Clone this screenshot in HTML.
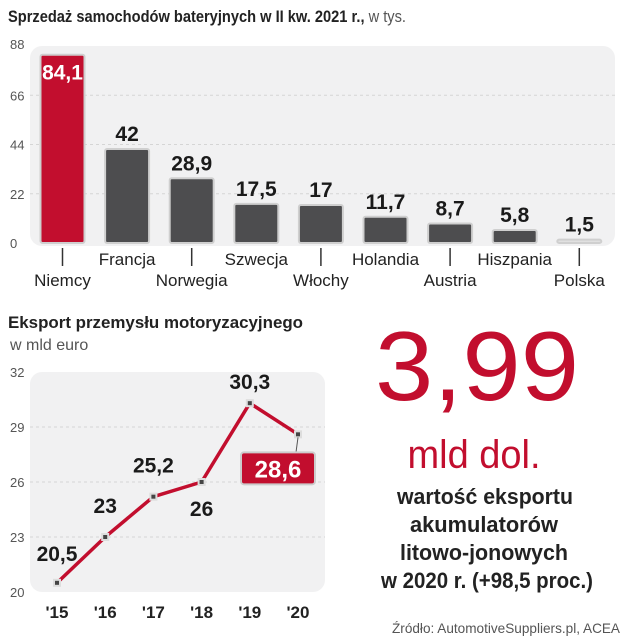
<!DOCTYPE html>
<html><head><meta charset="utf-8"><style>
html,body{margin:0;padding:0;background:#fff}
svg{display:block;font-family:"Liberation Sans",sans-serif}
</style></head><body>
<svg id="c" width="636" height="640" viewBox="0 0 636 640" xmlns="http://www.w3.org/2000/svg">
<text x="8" y="22" font-size="17" font-weight="bold" fill="#222" textLength="398" lengthAdjust="spacingAndGlyphs">Sprzedaż samochodów bateryjnych w II kw. 2021 r.,<tspan font-weight="normal" fill="#555"> w tys.</tspan></text>
<rect x="30" y="46" width="585" height="200" rx="12" fill="#f1f1f2"/>
<g id="barGrid"></g><g id="bars"></g>
<text x="8" y="328" font-size="17" font-weight="bold" fill="#222" textLength="295" lengthAdjust="spacingAndGlyphs">Eksport przemysłu motoryzacyjnego</text>
<text x="10" y="350" font-size="16" fill="#555">w mld euro</text>
<rect x="30" y="372" width="295" height="220" rx="12" fill="#f1f1f2"/>
<g id="lineGrid"></g><g id="line"></g>
<text x="477" y="400" font-size="98" fill="#c20e2e" text-anchor="middle" textLength="204" lengthAdjust="spacingAndGlyphs">3,99</text>
<text x="474" y="468" font-size="40" fill="#c20e2e" text-anchor="middle" textLength="133" lengthAdjust="spacingAndGlyphs">mld dol.</text>
<g font-size="22" font-weight="bold" fill="#222" text-anchor="middle">
<text x="485" y="504" textLength="176" lengthAdjust="spacingAndGlyphs">wartość eksportu</text>
<text x="484" y="532" textLength="148" lengthAdjust="spacingAndGlyphs">akumulatorów</text>
<text x="484" y="560" textLength="168" lengthAdjust="spacingAndGlyphs">litowo-jonowych</text>
<text x="487" y="588" textLength="212" lengthAdjust="spacingAndGlyphs">w 2020 r. (+98,5 proc.)</text>
</g>
<text x="620" y="633" font-size="14" fill="#555" text-anchor="end" textLength="228" lengthAdjust="spacingAndGlyphs">Źródło: AutomotiveSuppliers.pl, ACEA</text>
</svg>
<script>
const barCategories=["Niemcy","Francja","Norwegia","Szwecja","Włochy","Holandia","Austria","Hiszpania","Polska"];
const barValues=[84.1,42,28.9,17.5,17,11.7,8.7,5.8,1.5];
const barLabels=["84,1","42","28,9","17,5","17","11,7","8,7","5,8","1,5"];
const barTicks=[0,22,44,66,88];
const lineYears=["'15","'16","'17","'18","'19","'20"];
const lineValues=[20.5,23,25.2,26,30.3,28.6];
const lineLabels=["20,5","23","25,2","26","30,3","28,6"];
const lineTicks=[20,23,26,29,32];
const NS="http://www.w3.org/2000/svg";
function mk(t,a,p,txt){const e=document.createElementNS(NS,t);for(const k in a)e.setAttribute(k,a[k]);if(txt!=null)e.textContent=txt;p.appendChild(e);return e;}
const by=v=>243-v*(197/88);
const bx=i=>62.5+i*64.6;
const bg=document.getElementById('barGrid'),bb=document.getElementById('bars');
barTicks.forEach(t=>{
 if(t>0&&t<88){const l=mk('line',{x1:30,x2:615,y1:by(t),y2:by(t),stroke:'#d5d5d5','stroke-dasharray':'3,3'},bg);}
 const tx=mk('text',{x:10,y:by(t)+(t==88?3:5),'font-size':13,fill:'#555'},bg,String(t));
 
});
barValues.forEach((v,i)=>{
 const x=bx(i),top=by(v),h=Math.max(243-top,2);
 const r=mk('rect',{x:x-22,y:243-h,width:44,height:h,rx:2,fill:i==0?'#c20e2e':(v<3?'#e0e0e0':'#4d4d4f'),stroke:'#cfcfcf','stroke-width':2},bb);
 
 const lab=mk('text',{x:x,y:i==0?top+25:top-8,'font-size':21,'font-weight':'bold',fill:i==0?'#fff':'#1a1a1a','text-anchor':'middle'},bb,barLabels[i]);
 
 const low=i%2==0;
 if(low){const tk=mk('line',{x1:x,x2:x,y1:248,y2:266,stroke:'#333','stroke-width':1.5},bb);}
 const cl=mk('text',{x:x,y:low?286:265,'font-size':17,fill:'#222','text-anchor':'middle'},bb,barCategories[i]);
 
});
const ly=v=>592-(v-20)*(220/12);
const lx=i=>57+i*48.2;
const lg=document.getElementById('lineGrid'),lg2=document.getElementById('line');
lineTicks.forEach(t=>{
 if(t>20&&t<32){const l=mk('line',{x1:30,x2:325,y1:ly(t),y2:ly(t),stroke:'#d5d5d5','stroke-dasharray':'3,3'},lg);}
 const tx=mk('text',{x:10,y:ly(t)+5,'font-size':13,fill:'#555'},lg,String(t));
 
});
lineYears.forEach((y,i)=>{const t=mk('text',{x:lx(i),y:618,'font-size':17,'font-weight':'bold',fill:'#222','text-anchor':'middle'},lg,y);});
const pl=mk('polyline',{points:lineValues.map((v,i)=>lx(i)+','+ly(v)).join(' '),fill:'none',stroke:'#c20e2e','stroke-width':3.5,'stroke-linejoin':'round'},lg2);

const offs=[[0,-22],[0,-24],[0,-24],[0,26],[0,-14],[0,0]];
lineValues.forEach((v,i)=>{
 const x=lx(i),y=ly(v);
 const p=mk('rect',{x:x-3,y:y-3,width:6,height:6,fill:'#444',stroke:'#ddd','stroke-width':2},lg2);
 
 if(i==lineValues.length-1){
  const ln=mk('line',{x1:x,x2:x-2,y1:y+3,y2:y+18,stroke:'#555'},lg2);
  const bx2=mk('rect',{x:x-57,y:y+18,width:74,height:32,rx:3,fill:'#c20e2e',stroke:'#ccc','stroke-width':2},lg2);
  const t=mk('text',{x:x-20,y:y+43,'font-size':24,'font-weight':'bold',fill:'#fff','text-anchor':'middle'},lg2,lineLabels[i]);
 }else{
  const t=mk('text',{x:x+offs[i][0],y:y+offs[i][1]+(offs[i][1]>0?8:0),'font-size':21,'font-weight':'bold',fill:'#1a1a1a','text-anchor':'middle'},lg2,lineLabels[i]);
  
 }
});
</script>
</body></html>
